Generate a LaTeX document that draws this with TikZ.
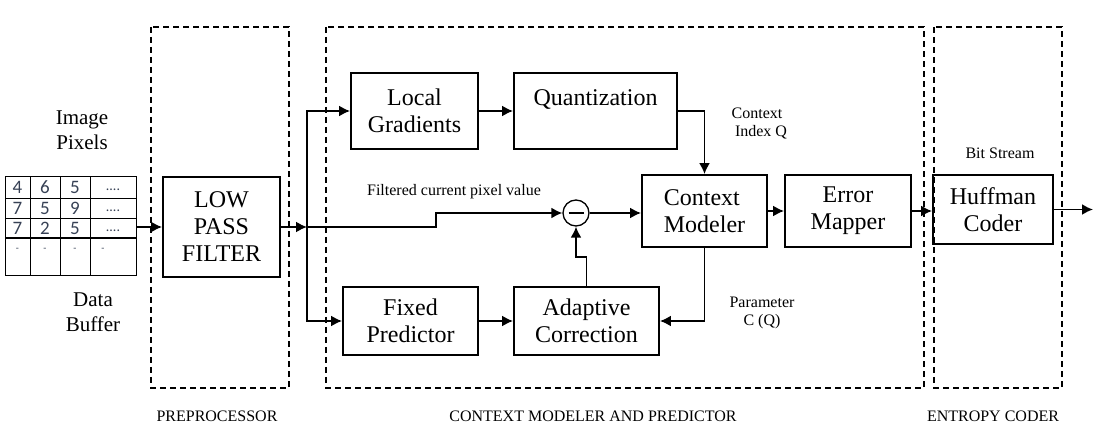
\documentclass[tikz,border=0pt]{standalone}
\usepackage{fontspec}
\setmainfont{Liberation Serif}
\newfontfamily\cellfont{Carlito}
\usepackage{tikz}
\usetikzlibrary{arrows.meta}
\definecolor{cellgray}{RGB}{55,65,85}
\tikzset{
  blk/.style={draw,line width=1.9pt,align=center,inner sep=0pt,font=\fontsize{24}{27}\selectfont},
  zone/.style={draw,line width=1.1pt,dash pattern=on 6pt off 4pt},
  lnk/.style={line width=1.8pt,-{Latex[length=11pt,width=11pt]}},
  note/.style={font=\fontsize{16}{18}\selectfont,align=center,inner sep=0pt},
  cell/.style={font=\cellfont\fontsize{19}{21}\selectfont,text=cellgray,inner sep=0pt}
}

\begin{document}
\begin{tikzpicture}[x=1pt,y=-1pt]
   \useasboundingbox (0,0) rectangle (1093,430);

   \draw[zone] (151,27) rectangle (289,388);
   \draw[zone] (326,27) rectangle (924,388);
   \draw[zone] (934,27) rectangle (1062,388);
   \draw (217,416) node[note] (zpre) {PREPROCESSOR};
   \draw (593,416) node[note] (zctx) {CONTEXT MODELER AND PREDICTOR};
   \draw (993,416) node[note] (zent) {ENTROPY CODER};

   % data buffer
   \draw (82,130) node[align=center,font=\fontsize{21}{25}\selectfont] (pix) {Image\\Pixels};
   \draw (93,312) node[align=center,font=\fontsize{21}{25}\selectfont] (dbuf) {Data\\Buffer};
   \draw[line width=1pt] (5,177) rectangle (136,276);
   \draw[line width=0.8pt] (5,198) -- (136,198);
   \draw[line width=0.8pt] (5,218) -- (136,218);
   \draw[line width=1.3pt] (5,238) -- (136,238);
   \draw[line width=0.8pt] (30,177) -- (30,276);
   \draw[line width=0.8pt] (60,177) -- (60,276);
   \draw[line width=0.8pt] (90,177) -- (90,276);
   \draw (17.5,187.5) node[cell] (c11) {4};
   \draw (45,187.5) node[cell] (c12) {6};
   \draw (75,187.5) node[cell] (c13) {5};
   \draw (113,190) node[cell,font=\cellfont\fontsize{14}{16}\selectfont] (c14) {....};
   \draw (17.5,208) node[cell] (c21) {7};
   \draw (45,208) node[cell] (c22) {5};
   \draw (75,208) node[cell] (c23) {9};
   \draw (113,210.5) node[cell,font=\cellfont\fontsize{14}{16}\selectfont] (c24) {....};
   \draw (17.5,228) node[cell] (c31) {7};
   \draw (45,228) node[cell] (c32) {2};
   \draw (75,228) node[cell] (c33) {5};
   \draw (113,230.5) node[cell,font=\cellfont\fontsize{14}{16}\selectfont] (c34) {....};
   \draw (17.5,250) node[cell,font=\cellfont\fontsize{10}{12}\selectfont] (c41) {-};
   \draw (45,250) node[cell,font=\cellfont\fontsize{10}{12}\selectfont] (c42) {-};
   \draw (75,250) node[cell,font=\cellfont\fontsize{10}{12}\selectfont] (c43) {-};
   \draw (103,250) node[cell,font=\cellfont\fontsize{10}{12}\selectfont] (c44) {-};
   \coordinate (buf) at (136,227);

   % blocks
   \draw (221.5,227) node[blk,minimum width=117pt,minimum height=100pt] (lpf) {LOW\\PASS\\FILTER};
   \draw (414.5,111) node[blk,minimum width=127pt,minimum height=76pt] (lg) {Local\\Gradients};
   \draw (595.5,111) node[blk,minimum width=163pt,minimum height=76pt] (qz) {Quantization\\\mbox{}};
   \draw (410.5,321) node[blk,minimum width=135pt,minimum height=68pt] (fp) {Fixed\\Predictor};
   \draw (586.5,321) node[blk,minimum width=145pt,minimum height=68pt] (ac) {Adaptive\\Correction};
   \draw (704.5,211) node[blk,minimum width=125pt,minimum height=72pt,align=left] (cm) {Context\\Modeler};
   \draw (848,211) node[blk,minimum width=126pt,minimum height=72pt] (em) {Error\\Mapper};
   \draw (993,209.5) node[blk,minimum width=120pt,minimum height=69pt] (hc) {Huffman\\Coder};
   \draw (576,213) node[circle,draw,line width=1.3pt,minimum size=26pt,inner sep=0pt] (sub) {\rule{15pt}{1.3pt}};

   % labels
   \draw (454,192) node[note] (lfilt) {Filtered current pixel value};
   \draw (757,124) node[note] (lidx) {Context\\\hspace*{8pt}Index Q};
   \draw (762,313) node[note] (lpar) {Parameter\\C (Q)};
   \draw (1000,153) node[note] (lbit) {Bit Stream};

   % connectors
   \coordinate (split) at (307,227);
   \coordinate (jog) at (436,227);
   \coordinate (acup) at (586.5,257);
   \coordinate (out) at (1093,209.5);
   \draw[lnk] (buf) -- (buf -| lpf.west);
   \draw[lnk] (lpf.east) -- (split);
   \draw[lnk] (split) |- (lg.west);
   \draw[lnk] (split) |- (fp.west);
   \draw[lnk] (split) -- (jog) |- (sub.west);
   \draw[lnk] (lg.east) -- (qz.west);
   \draw[lnk] (qz.east) -| (cm.north);
   \draw[lnk] (sub.east) -- (sub.east -| cm.west);
   \draw[lnk] (cm.south) |- (ac.east);
   \draw[lnk] (fp.east) -- (ac.west);
   \draw[lnk] (ac.north) -- (acup) -| (sub.south);
   \draw[lnk] (cm.east) -- (cm.east -| em.west);
   \draw[lnk] (em.east) -- (em.east -| hc.west);
   \draw[lnk] (hc.east) -- (out);

\end{tikzpicture}
\end{document}
